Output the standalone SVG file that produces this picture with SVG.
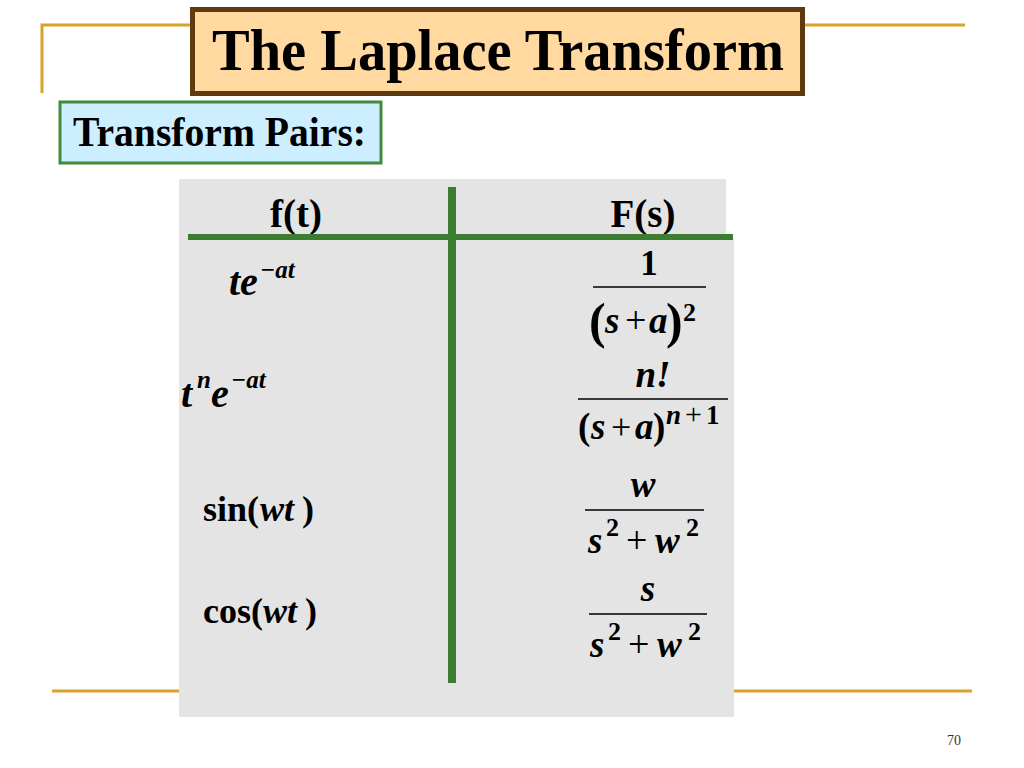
<svg xmlns="http://www.w3.org/2000/svg" width="1024" height="768" viewBox="0 0 1024 768">
<style>
.m{font-family:"Liberation Serif","Times New Roman",serif;font-weight:bold;fill:#000}
.i{font-style:italic}
.p{font-family:"Liberation Serif","Times New Roman",serif;font-weight:normal;fill:#000}
.gold{stroke:#D6A426;stroke-width:3;fill:none}
.frac{stroke:#000;stroke-width:1.3}
.grn{fill:#3C7D32}
</style>
<rect width="1024" height="768" fill="#fff"/>
<g id="frame">
<path class="gold" d="M42,93 V25 H965"/>
<path class="gold" d="M52,691 H972"/>
</g>
<g id="title">
<rect x="192.5" y="9.5" width="610" height="84" fill="#FFD9A0" stroke="#5E3A0E" stroke-width="5"/>
<text class="m" x="498" y="70" font-size="60" text-anchor="middle" textLength="572" lengthAdjust="spacingAndGlyphs">The Laplace Transform</text>
</g>
<g id="subtitle">
<rect x="60" y="102" width="321" height="61" fill="#CCEEFE" stroke="#3F8C3F" stroke-width="3"/>
<text class="m" x="73" y="146" font-size="42" textLength="293" lengthAdjust="spacingAndGlyphs">Transform Pairs:</text>
</g>
<g id="table">
<rect x="179" y="179" width="547" height="60" fill="#E4E4E4"/>
<rect x="179" y="239" width="555" height="478" fill="#E4E4E4"/>
<text class="m" x="296" y="227" font-size="40" text-anchor="middle" textLength="52" lengthAdjust="spacingAndGlyphs">f(t)</text>
<text class="m" x="643" y="227" font-size="40" text-anchor="middle" textLength="65" lengthAdjust="spacingAndGlyphs">F(s)</text>
</g>
<g id="connectors">
<rect class="grn" x="188" y="234" width="545" height="6"/>
<rect class="grn" x="448" y="187" width="8" height="496"/>
</g>
<g id="row1">
<text class="m i" x="229" y="295" font-size="40">te</text>
<text class="m i" x="260" y="278" font-size="25">−at</text>
<text class="m" x="649" y="275" font-size="35" text-anchor="middle">1</text>
<line class="frac" x1="593" y1="287" x2="706" y2="287"/>
<text class="m" x="589" y="338" font-size="50">(</text>
<text class="m i" x="605" y="333" font-size="37">s</text>
<text class="p" x="625" y="333" font-size="38">+</text>
<text class="m i" x="649" y="333" font-size="37">a</text>
<text class="m" x="666" y="338" font-size="50">)</text>
<text class="m" x="683" y="321" font-size="26">2</text>
</g>
<g id="row2">
<text class="m i" x="181" y="407" font-size="40">t</text>
<text class="m i" x="197" y="388" font-size="25">n</text>
<text class="m i" x="211" y="407" font-size="40">e</text>
<text class="m i" x="231" y="388" font-size="25">−at</text>
<text class="m i" x="653" y="387" font-size="37" text-anchor="middle">n!</text>
<line class="frac" x1="578" y1="399" x2="728" y2="399"/>
<text class="m" x="578" y="439" font-size="37">(</text>
<text class="m i" x="591" y="439" font-size="37">s</text>
<text class="p" x="611" y="439" font-size="36">+</text>
<text class="m i" x="635" y="439" font-size="37">a</text>
<text class="m" x="653" y="439" font-size="37">)</text>
<text class="m i" x="666" y="424" font-size="27">n</text>
<text class="p" x="685" y="424" font-size="30">+</text>
<text class="m" x="706" y="424" font-size="27">1</text>
</g>
<g id="row3">
<text class="m" x="203" y="521" font-size="36">sin(</text>
<text class="m i" x="260" y="521" font-size="36">wt</text>
<text class="m" x="302" y="521" font-size="36">)</text>
<text class="m i" x="643" y="497" font-size="37" text-anchor="middle">w</text>
<line class="frac" x1="585" y1="510" x2="704" y2="510"/>
<text class="m i" x="588" y="553" font-size="37">s</text>
<text class="m" x="606" y="536" font-size="26">2</text>
<text class="p" x="626" y="553" font-size="38">+</text>
<text class="m i" x="655" y="553" font-size="37">w</text>
<text class="m" x="686" y="536" font-size="26">2</text>
</g>
<g id="row4">
<text class="m" x="203" y="623" font-size="36">cos(</text>
<text class="m i" x="263" y="623" font-size="36">wt</text>
<text class="m" x="305" y="623" font-size="36">)</text>
<text class="m i" x="648" y="601" font-size="37" text-anchor="middle">s</text>
<line class="frac" x1="589" y1="614" x2="707" y2="614"/>
<text class="m i" x="590" y="657" font-size="37">s</text>
<text class="m" x="608" y="640" font-size="26">2</text>
<text class="p" x="628" y="657" font-size="38">+</text>
<text class="m i" x="657" y="657" font-size="37">w</text>
<text class="m" x="688" y="640" font-size="26">2</text>
</g>
<text x="954" y="745" font-family="Liberation Serif,serif" font-size="14" fill="#333" text-anchor="middle">70</text>
</svg>
